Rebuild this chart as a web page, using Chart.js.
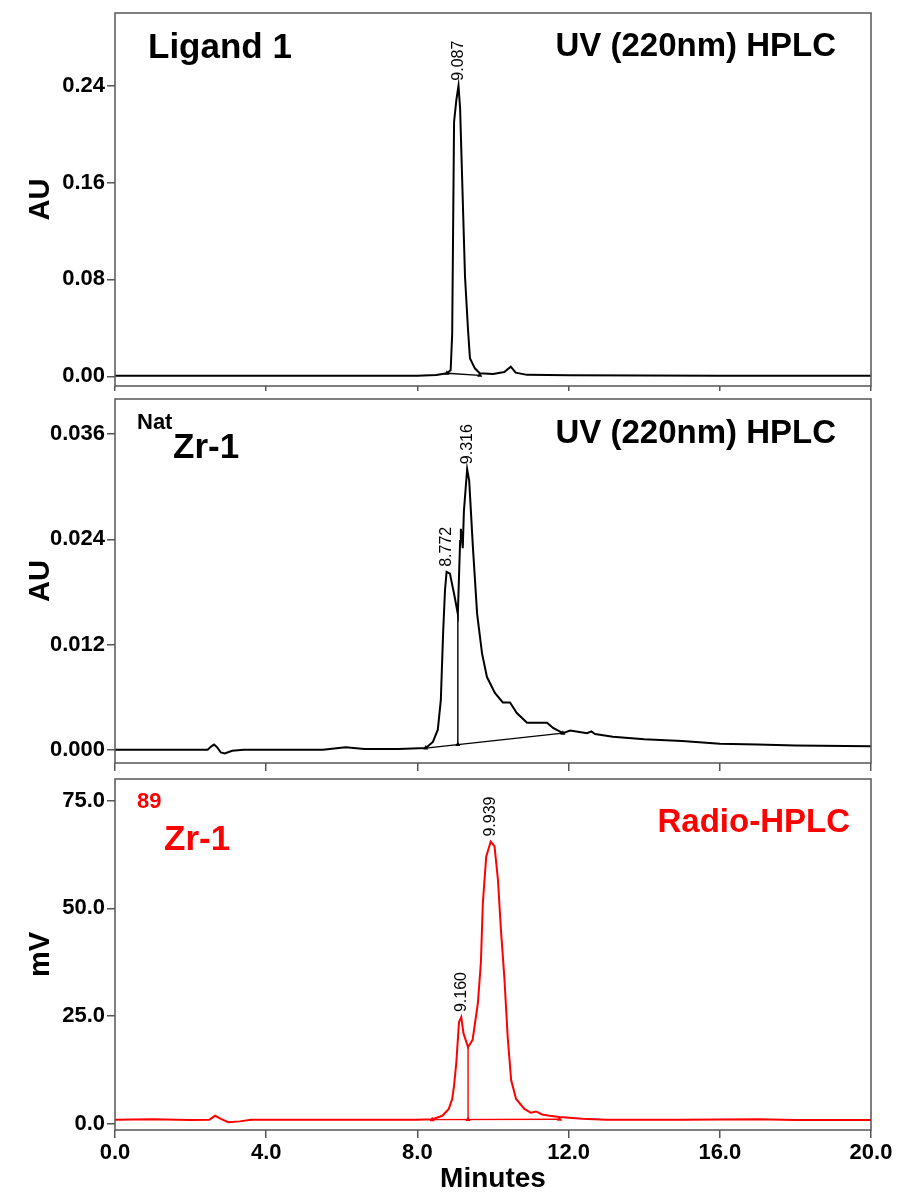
<!DOCTYPE html>
<html>
<head>
<meta charset="utf-8">
<script src="https://cdn.jsdelivr.net/npm/chart.js@4.4.1/dist/chart.umd.min.js"></script>
<style>
  body { margin: 0; background: #fff; }
  .panel { position: absolute; left: 0; width: 897px; }
</style>
</head>
<body>
<div class="panel" style="top:0px;height:399px"><canvas id="ligand"></canvas></div>
<div class="panel" style="top:393px;height:386px"><canvas id="natzr"></canvas></div>
<div class="panel" style="top:773px;height:423px"><canvas id="zr89"></canvas></div>
<script>
const FONT = '"Liberation Sans", Arial, sans-serif';
const xTicks = [0, 4, 8, 12, 16, 20];

// Ligand 1, UV 220nm
const time1 = [0, 5, 8.0, 8.5, 8.78, 8.88, 8.92, 8.97, 9.03, 9.087, 9.13, 9.18, 9.26, 9.34, 9.39, 9.52, 9.65, 10.0, 10.3, 10.47, 10.6, 10.9, 12, 16, 20];
const au1 = [0.0005, 0.0005, 0.0005, 0.001, 0.0025, 0.005, 0.035, 0.21, 0.228, 0.240, 0.221, 0.167, 0.082, 0.038, 0.015, 0.0066, 0.0025, 0.002, 0.0035, 0.008, 0.003, 0.0012, 0.0008, 0.0005, 0.0005];
const peakTime1 = [9.087];
const peakAU1 = [0.240];
const baseTime1 = [8.78, 9.65];
const baseAU1 = [0.0025, 0.0008];
const yTicks1 = [0, 0.08, 0.16, 0.24];

// NatZr-1, UV 220nm
const time2 = [0, 2.45, 2.55, 2.62, 2.7, 2.8, 2.9, 3.1, 3.4, 5.5, 6.1, 6.6, 7.5, 8.22, 8.41, 8.54, 8.62, 8.68, 8.73, 8.772, 8.86, 8.97, 9.07, 9.13, 9.15, 9.2, 9.23, 9.316, 9.37, 9.47, 9.58, 9.71, 9.84, 10.05, 10.26, 10.45, 10.63, 10.9, 11.16, 11.43, 11.59, 11.85, 12.04, 12.49, 12.6, 12.7, 13.17, 14, 15, 16, 17, 18, 20];
const au2 = [0, 0, 0.0004, 0.0006, 0.0003, -0.0003, -0.0004, -0.0001, 0, 0, 0.0003, 0.0001, 0.0001, 0.0002, 0.0009, 0.0023, 0.0057, 0.0133, 0.0182, 0.0203, 0.0201, 0.0178, 0.0155, 0.0238, 0.0252, 0.0230, 0.0272, 0.0320, 0.0307, 0.0230, 0.0155, 0.0110, 0.0083, 0.0065, 0.0054, 0.0054, 0.0042, 0.0031, 0.0031, 0.0031, 0.0025, 0.0019, 0.0022, 0.0019, 0.0021, 0.0018, 0.0015, 0.0012, 0.0010, 0.0007, 0.0006, 0.0005, 0.0004];
const peakTime2 = [8.772, 9.316];
const peakAU2 = [0.0203, 0.0320];
const baseTime2 = [8.22, 11.85];
const baseAU2 = [0.0002, 0.0019];
const dropTime2 = [9.07, 9.07];
const dropAU2 = [0.0006, 0.0155];
const yTicks2 = [0, 0.012, 0.024, 0.036];

// 89Zr-1, radio trace
const time3 = [0, 1.0, 2.0, 2.5, 2.65, 2.8, 3.0, 3.3, 3.6, 5, 7, 8.0, 8.4, 8.66, 8.83, 8.92, 8.97, 9.03, 9.10, 9.16, 9.22, 9.34, 9.46, 9.60, 9.68, 9.73, 9.82, 9.939, 10.04, 10.13, 10.21, 10.30, 10.39, 10.48, 10.61, 10.83, 11.0, 11.14, 11.3, 11.5, 11.76, 12.36, 13, 15, 17, 18, 20];
const mv3 = [1.0, 1.1, 0.9, 1.0, 1.9, 1.2, 0.4, 0.6, 1.0, 1.0, 1.0, 1.0, 1.1, 1.9, 3.5, 5.8, 8.9, 14.3, 23.6, 24.8, 21, 17.8, 19.5, 28, 37.5, 51, 62, 65.5, 64.4, 56.7, 45, 34, 20, 10.2, 5.8, 3.5, 2.6, 2.9, 2.2, 1.9, 1.6, 1.2, 1.0, 1.0, 1.1, 0.9, 0.9];
const peakTime3 = [9.160, 9.939];
const peakMV3 = [24.8, 65.5];
const baseTime3 = [8.39, 11.76];
const baseMV3 = [1.0, 1.1];
const dropTime3 = [9.34, 9.34];
const dropMV3 = [1.05, 17.8];
const yTicks3 = [0, 25, 50, 75];

const pts = (xs, ys) => xs.map((x, i) => ({ x: x, y: ys[i] }));

// box around plot area, panel titles and rotated peak labels
const framePlugin = {
  id: 'frame',
  afterDraw(chart, args, opts) {
    const ctx = chart.ctx, a = chart.chartArea;
    ctx.save();
    ctx.strokeStyle = '#555';
    ctx.lineWidth = 1.5;
    ctx.strokeRect(a.left, a.top, a.right - a.left, a.bottom - a.top);

    const xs = chart.scales.x, ys = chart.scales.y;
    ctx.fillStyle = '#000';
    ctx.font = '16px ' + FONT;
    opts.peakTimes.forEach((t, i) => {
      const px = xs.getPixelForValue(t);
      const py = ys.getPixelForValue(opts.peakValues[i]);
      ctx.save();
      ctx.translate(px, py - 5);
      ctx.rotate(-Math.PI / 2);
      ctx.textAlign = 'left';
      ctx.textBaseline = 'middle';
      ctx.fillText(t.toFixed(3), 0, 0);
      ctx.restore();
    });

    opts.texts.forEach(tx => {
      ctx.font = 'bold ' + tx.size + 'px ' + FONT;
      ctx.fillStyle = tx.color || '#000';
      ctx.textAlign = tx.align || 'left';
      ctx.textBaseline = 'alphabetic';
      ctx.fillText(tx.text, tx.x, tx.y - opts.offset);
    });
    ctx.restore();
  }
};

function makeChart(id, o) {
  const datasets = [
    { data: pts(o.t, o.v), borderColor: o.color, borderWidth: 2, pointRadius: 0, tension: 0 },
    { data: pts(o.bt, o.bv), borderColor: o.color, borderWidth: 1.4, pointRadius: 3, pointStyle: 'triangle',
      pointBackgroundColor: o.color, pointBorderColor: o.color, pointBorderWidth: 0 }
  ];
  if (o.dt) {
    datasets.push({ data: pts(o.dt, o.dv), borderColor: o.color, borderWidth: 1.4, pointRadius: [3, 0],
      pointStyle: 'triangle', pointBackgroundColor: o.color, pointBorderColor: o.color, pointBorderWidth: 0 });
  }
  return new Chart(document.getElementById(id), {
    type: 'line',
    data: { datasets: datasets },
    options: {
      responsive: true,
      maintainAspectRatio: false,
      animation: false,
      layout: { padding: { top: o.padTop, right: 26, left: 0, bottom: 0 } },
      plugins: {
        legend: { display: false },
        tooltip: { enabled: false },
        frame: { peakTimes: o.pt, peakValues: o.pv, texts: o.texts, offset: o.offset }
      },
      scales: {
        x: {
          type: 'linear', min: 0, max: 20,
          afterBuildTicks: s => { s.ticks = xTicks.map(v => ({ value: v })); },
          afterFit: s => { s.height = o.xHeight; s.paddingLeft = 0; s.paddingRight = 0; },
          border: { display: false },
          grid: { drawOnChartArea: false, drawTicks: true, tickLength: o.xTick, color: '#555', lineWidth: 1.5 },
          ticks: { display: o.showX, padding: 2, color: '#000', font: { family: FONT, size: 22, weight: 'bold' },
                   maxRotation: 0, callback: v => v.toFixed(1) },
          title: { display: o.showX, text: 'Minutes', color: '#000', padding: 0,
                   font: { family: FONT, size: 28, weight: 'bold' } }
        },
        y: {
          min: o.ymin, max: o.ymax,
          afterBuildTicks: s => { s.ticks = o.yTicks.map(v => ({ value: v })); },
          afterFit: s => { s.width = 115; s.paddingTop = 0; s.paddingBottom = 0; },
          border: { display: false },
          grid: { drawOnChartArea: false, drawTicks: true, tickLength: 8, color: '#555', lineWidth: 1.5 },
          ticks: { padding: 2, color: '#000', font: { family: FONT, size: 22, weight: 'bold' },
                   callback: v => v.toFixed(o.digits) },
          title: { display: true, text: o.yTitle, color: '#000', padding: { top: 24, bottom: 0 },
                   font: { family: FONT, size: 29, weight: 'bold' } }
        }
      }
    },
    plugins: [framePlugin]
  });
}

makeChart('ligand', {
  t: time1, v: au1, bt: baseTime1, bv: baseAU1, pt: peakTime1, pv: peakAU1,
  color: '#000', yTicks: yTicks1, ymin: -0.008, ymax: 0.3, digits: 2, yTitle: 'AU',
  padTop: 13, xHeight: 13, xTick: 5, showX: false, offset: 0,
  texts: [
    { text: 'Ligand 1', x: 148, y: 58, size: 35 },
    { text: 'UV (220nm) HPLC', x: 836, y: 56, size: 33, align: 'right' }
  ]
});

makeChart('natzr', {
  t: time2, v: au2, bt: baseTime2, bv: baseAU2, dt: dropTime2, dv: dropAU2, pt: peakTime2, pv: peakAU2,
  color: '#000', yTicks: yTicks2, ymin: -0.0015, ymax: 0.04, digits: 3, yTitle: 'AU',
  padTop: 6, xHeight: 16, xTick: 8, showX: false, offset: 393,
  texts: [
    { text: 'Nat', x: 137, y: 429, size: 22 },
    { text: 'Zr-1', x: 173, y: 458, size: 35 },
    { text: 'UV (220nm) HPLC', x: 836, y: 443, size: 33, align: 'right' }
  ]
});

makeChart('zr89', {
  t: time3, v: mv3, bt: baseTime3, bv: baseMV3, dt: dropTime3, dv: dropMV3, pt: peakTime3, pv: peakMV3,
  color: '#ff0000', yTicks: yTicks3, ymin: -1.4, ymax: 80, digits: 1, yTitle: 'mV',
  padTop: 6, xHeight: 66, xTick: 8, showX: true, offset: 773,
  texts: [
    { text: '89', x: 137, y: 808, size: 22, color: '#ff0000' },
    { text: 'Zr-1', x: 164, y: 850, size: 35, color: '#ff0000' },
    { text: 'Radio-HPLC', x: 850, y: 832, size: 33, color: '#ff0000', align: 'right' }
  ]
});
</script>
</body>
</html>
